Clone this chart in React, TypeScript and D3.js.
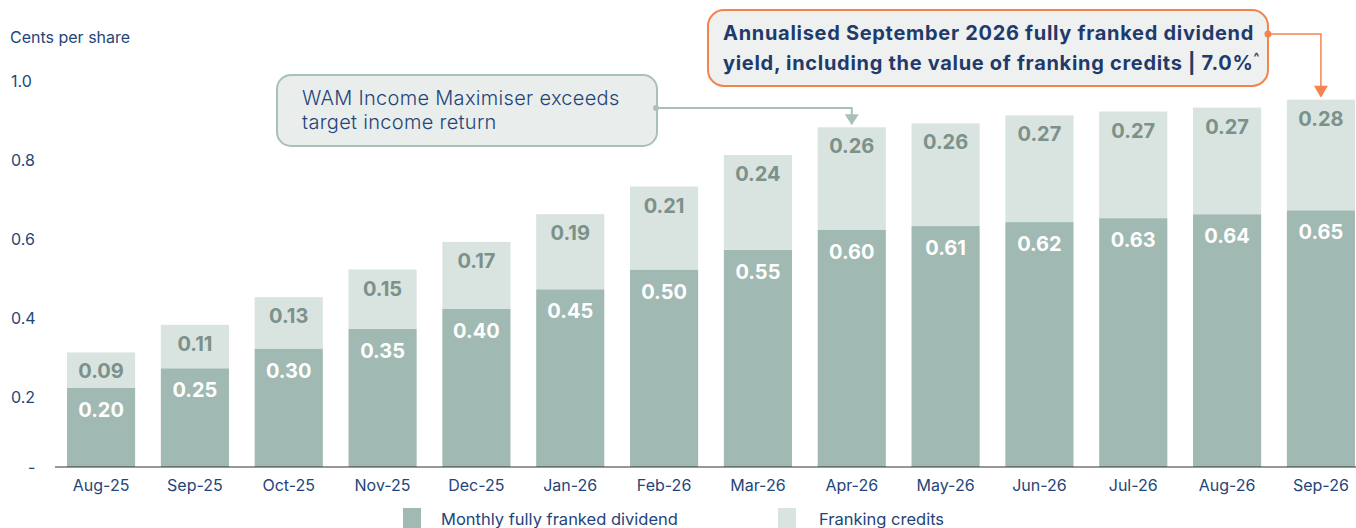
import React from "react";
import * as d3 from "d3";

const months = ["Aug-25", "Sep-25", "Oct-25", "Nov-25", "Dec-25", "Jan-26", "Feb-26", "Mar-26", "Apr-26", "May-26", "Jun-26", "Jul-26", "Aug-26", "Sep-26"];
const dividend = [0.2, 0.25, 0.3, 0.35, 0.4, 0.45, 0.5, 0.55, 0.6, 0.61, 0.62, 0.63, 0.64, 0.65];
const franking = [0.09, 0.11, 0.13, 0.15, 0.17, 0.19, 0.21, 0.24, 0.26, 0.26, 0.27, 0.27, 0.27, 0.28];
const yTicks = [0, 0.2, 0.4, 0.6, 0.8, 1.0];

const W = 1356;
const H = 528;
const navy = "#24457a";
const divColor = "#a0b9b2";
const frankColor = "#d9e3e0";
const orange = "#f5834f";
const sage = "#a9c0b8";
const font = "Inter, 'Noto Sans', sans-serif";

const App = () => {
  const x = d3
    .scaleBand<string>()
    .domain(months)
    .range([55, 1367])
    .paddingInner(0.274)
    .paddingOuter(0.128);

  const y = d3.scaleLinear().domain([0, 1]).range([467, 72]);

  const bw = x.bandwidth();
  const aprX = (x("Apr-26") as number) + bw / 2;
  const aprTop = y(dividend[8] + franking[8]);
  const sepX = (x("Sep-26") as number) + bw / 2;
  const sepTop = y(dividend[13] + franking[13]);

  return (
    <svg width={W} height={H} style={{ position: "absolute", left: 0, top: 0, fontFamily: font }}>
      {/* y axis title and ticks */}
      <text x={10} y={43} fontSize={16} fill={navy}>Cents per share</text>
      {yTicks.map((t) => (
        <text key={t} x={t === 0 ? 28 : 11} y={y(t) + (t === 0 ? 6 : 15)} fontSize={16} fill={navy}>
          {t === 0 ? "-" : t.toFixed(1)}
        </text>
      ))}

      {/* bars */}
      {months.map((m, i) => {
        const x0 = x(m) as number;
        const d = dividend[i];
        const f = franking[i];
        return (
          <g key={m}>
            <rect x={x0} y={y(d)} width={bw} height={y(0) - y(d)} fill={divColor} />
            <rect x={x0} y={y(d + f)} width={bw} height={y(d) - y(d + f)} fill={frankColor} />
            <text x={x0 + bw / 2} y={y(d) + 29} textAnchor="middle" fontSize={20} fontWeight={700} fill="#ffffff">
              {d.toFixed(2)}
            </text>
            <text x={x0 + bw / 2} y={y(d + f) + 26} textAnchor="middle" fontSize={20} fontWeight={700} fill="#7b9189">
              {f.toFixed(2)}
            </text>
            <text x={x0 + bw / 2} y={491} textAnchor="middle" fontSize={16} fill={navy}>
              {m}
            </text>
          </g>
        );
      })}

      {/* baseline */}
      <line x1={55} x2={W} y1={y(0)} y2={y(0)} stroke="#333" strokeWidth={1.2} />

      {/* annotation 1 */}
      <rect x={277} y={75} width={380} height={71} rx={14} fill="#e9eeec" stroke={sage} strokeWidth={2} />
      <text x={302} y={105} fontSize={20} fill={navy} fontWeight={300} letterSpacing={0.3}>
        <tspan x={302}>WAM Income Maximiser exceeds</tspan>
        <tspan x={302} dy={24}>target income return</tspan>
      </text>
      <circle cx={656} cy={108} r={3} fill={sage} />
      <polyline points={`656,108 ${aprX},108 ${aprX},${aprTop - 10}`} fill="none" stroke={sage} strokeWidth={2} />
      <path d={`M${aprX - 7},${aprTop - 13} L${aprX + 7},${aprTop - 13} L${aprX},${aprTop - 2} Z`} fill={sage} />

      {/* annotation 2 */}
      <rect x={708} y={10} width={560} height={76} rx={16} fill="#eef1f0" stroke={orange} strokeWidth={2} />
      <text fontSize={20} fontWeight={700} fill="#1f3a6b" letterSpacing={0.7}>
        <tspan x={723} y={40}>Annualised September 2026 fully franked dividend</tspan>
        <tspan x={723} y={70}>yield, including the value of franking credits | 7.0%</tspan>
        <tspan fontSize={12} dy={-9}>^</tspan>
      </text>
      <circle cx={1268} cy={34} r={3.5} fill={orange} />
      <polyline points={`1268,34 ${sepX},34 ${sepX},${sepTop - 10}`} fill="none" stroke={orange} strokeWidth={1.5} />
      <path d={`M${sepX - 7},${sepTop - 14} L${sepX + 7},${sepTop - 14} L${sepX},${sepTop - 2} Z`} fill={orange} />

      {/* legend */}
      <rect x={403} y={508} width={18} height={20} fill={divColor} />
      <text x={441} y={525} fontSize={16.5} fill={navy}>Monthly fully franked dividend</text>
      <rect x={778} y={508} width={18} height={20} fill={frankColor} />
      <text x={819} y={525} fontSize={16.5} fill={navy}>Franking credits</text>
    </svg>
  );
};

export default App;
